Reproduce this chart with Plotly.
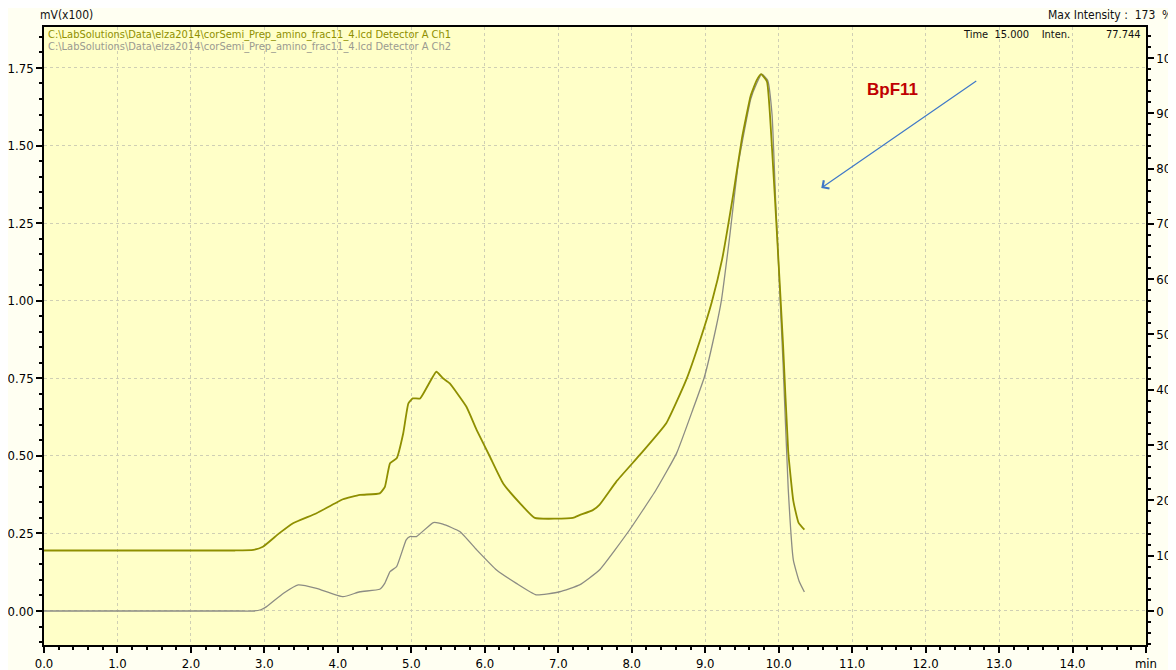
import plotly.graph_objects as go

# ---- data ----
t_ch1 = [0.0, 1.0, 2.0, 2.6, 2.85, 2.98, 3.2, 3.39, 3.71, 4.07, 4.30, 4.57, 4.64, 4.71, 4.80, 4.89,
         4.96, 5.02, 5.12, 5.34, 5.43, 5.52, 5.75, 5.89, 6.07, 6.25, 6.48, 6.68, 7.20, 7.29,
         7.47, 7.56, 7.79, 8.11, 8.47, 8.74, 8.94, 9.09, 9.23, 9.38, 9.50, 9.62, 9.70, 9.76,
         9.84, 9.91, 9.98, 10.06, 10.13, 10.20, 10.27, 10.35]
v_ch1 = [0.195, 0.195, 0.195, 0.195, 0.197, 0.207, 0.25, 0.283, 0.315, 0.36, 0.374, 0.379, 0.40, 0.476,
         0.492, 0.573, 0.669, 0.685, 0.685, 0.771, 0.75, 0.734, 0.658, 0.583, 0.497, 0.411,
         0.347, 0.30, 0.30, 0.309, 0.325, 0.342, 0.417, 0.503, 0.605, 0.744, 0.88, 0.996, 1.133,
         1.34, 1.523, 1.661, 1.71, 1.73, 1.707, 1.489, 1.202, 0.858, 0.514, 0.354, 0.285, 0.262]

t_ch2 = [0.0, 1.0, 2.0, 2.6, 2.85, 2.95, 3.03, 3.26, 3.46, 3.71, 4.07, 4.30, 4.57, 4.64, 4.71, 4.80, 4.93,
         4.98, 5.07, 5.30, 5.43, 5.66, 5.89, 6.16, 6.43, 6.70, 7.02, 7.29, 7.56, 7.97, 8.33,
         8.61, 8.83, 8.99, 9.15, 9.22, 9.33, 9.45, 9.62, 9.70, 9.77, 9.85, 9.91, 9.96, 10.06,
         10.13, 10.20, 10.28, 10.35]
v_ch2 = [0.0, 0.0, 0.0, 0.0, 0.0, 0.004, 0.014, 0.057, 0.084, 0.073, 0.046, 0.062, 0.07, 0.09, 0.127, 0.143,
         0.229, 0.24, 0.24, 0.285, 0.28, 0.256, 0.197, 0.132, 0.089, 0.052, 0.062, 0.084, 0.132,
         0.261, 0.39, 0.508, 0.648, 0.755, 0.916, 1.0, 1.20, 1.44, 1.65, 1.70, 1.73, 1.71, 1.60,
         1.315, 0.797, 0.394, 0.164, 0.095, 0.061]

x_ticks = [float(i) for i in range(16)]
x_ticklabels = [f"{i:.1f}" for i in range(15)] + ["min"]
y_ticks = [0.0, 0.25, 0.5, 0.75, 1.0, 1.25, 1.5, 1.75]
y_ticklabels = [f"{v:.2f}" for v in y_ticks]
y2_ticks = list(range(0, 101, 10))

series_names = ["C:\\LabSolutions\\Data\\elza2014\\corSemi_Prep_amino_frac11_4.lcd Detector A Ch1",
                "C:\\LabSolutions\\Data\\elza2014\\corSemi_Prep_amino_frac11_4.lcd Detector A Ch2"]

FONT = "DejaVu Sans Condensed, Liberation Sans Narrow, Arial Narrow, Liberation Sans, sans-serif"
CH1 = "#8f8f00"
CH2 = "#8c8c84"

fig = go.Figure()
fig.add_trace(go.Scatter(x=t_ch2, y=v_ch2, mode="lines", name=series_names[1],
                         line=dict(color=CH2, width=1.3, shape="spline", smoothing=0.4),
                         showlegend=False))
fig.add_trace(go.Scatter(x=t_ch1, y=v_ch1, mode="lines", name=series_names[0],
                         line=dict(color=CH1, width=1.8, shape="spline", smoothing=0.4),
                         showlegend=False))
# dummy trace so the right (% intensity) axis is drawn
fig.add_trace(go.Scatter(x=[None], y=[None], yaxis="y2", mode="lines",
                         showlegend=False, hoverinfo="skip"))

tickfont = dict(family=FONT, size=13, color="#000000")

fig.update_layout(
    width=1168, height=662,
    margin=dict(l=36, r=30, t=19, b=25),
    paper_bgcolor="#fffff2",
    plot_bgcolor="#ffffc8",
    font=dict(family=FONT, size=12, color="#111111"),
    xaxis=dict(
        range=[0, 15], tickvals=x_ticks, ticktext=x_ticklabels,
        showline=True, linecolor="#000000", linewidth=1.5, mirror=True,
        ticks="outside", ticklen=6, tickcolor="#000000", tickwidth=1.5,
        minor=dict(dtick=0.2, ticklen=3, tickcolor="#000000", showgrid=False, ticks="outside"),
        showgrid=True, gridcolor="#cfcfb4", griddash="dot", gridwidth=1,
        zeroline=False, tickfont=tickfont, automargin=False,
    ),
    yaxis=dict(
        range=[-0.1096, 1.882], tickvals=y_ticks, ticktext=y_ticklabels,
        showline=True, linecolor="#000000", linewidth=1.5,
        ticks="outside", ticklen=6, tickcolor="#000000", tickwidth=1.5,
        minor=dict(dtick=0.05, ticklen=3, tickcolor="#000000", showgrid=False, ticks="outside"),
        showgrid=True, gridcolor="#cfcfb4", griddash="dot", gridwidth=1,
        zeroline=False, tickfont=tickfont, automargin=False,
    ),
    yaxis2=dict(
        overlaying="y", side="right", range=[-6.15, 105.6], tickvals=y2_ticks,
        showline=True, linecolor="#000000", linewidth=1.5,
        ticks="outside", ticklen=6, tickcolor="#000000", tickwidth=1.5,
        minor=dict(dtick=2, ticklen=3, tickcolor="#000000", ticks="outside"),
        showgrid=False, zeroline=False, tickfont=tickfont, automargin=False,
    ),
)

fig.add_annotation(xref="paper", yref="paper", x=-0.005, y=1.0, yshift=3, xanchor="left",
                   yanchor="bottom", text="mV(x100)", showarrow=False,
                   font=dict(family=FONT, size=12, color="#111111"))
fig.add_annotation(xref="paper", yref="paper", x=0.002, y=1.0, yshift=1, xanchor="left",
                   yanchor="top", text=series_names[0], showarrow=False,
                   font=dict(family=FONT, size=11, color="#8f8f00"))
fig.add_annotation(xref="paper", yref="paper", x=0.002, y=1.0, yshift=-11, xanchor="left",
                   yanchor="top", text=series_names[1], showarrow=False,
                   font=dict(family=FONT, size=11, color="#9a9a90"))
fig.add_annotation(xref="paper", yref="paper", x=1.025, y=1.0, yshift=3, xanchor="right",
                   yanchor="bottom", text="Max Intensity :  173  %", showarrow=False,
                   font=dict(family=FONT, size=12, color="#111111"))
fig.add_annotation(xref="paper", yref="paper", x=0.832, y=1.0, yshift=1, xanchor="left",
                   yanchor="top", text="Time  15.000    Inten.", showarrow=False,
                   font=dict(family=FONT, size=11, color="#111111"))
fig.add_annotation(xref="paper", yref="paper", x=0.997, y=1.0, yshift=1, xanchor="right",
                   yanchor="top", text="77.744", showarrow=False,
                   font=dict(family=FONT, size=11, color="#111111"))

# BpF11 label + arrow
fig.add_annotation(x=11.55, y=1.68, xref="x", yref="y", text="<b>BpF11</b>", showarrow=False,
                   font=dict(family="Liberation Sans, Arial, sans-serif", size=17, color="#c00000"))
fig.add_annotation(x=10.58, y=1.363, ax=12.71, ay=1.711, xref="x", yref="y",
                   axref="x", ayref="y", text="", showarrow=True, arrowhead=4,
                   arrowsize=1.6, arrowwidth=1.2, arrowcolor="#3f78c8")

fig.write_html("out.html")
